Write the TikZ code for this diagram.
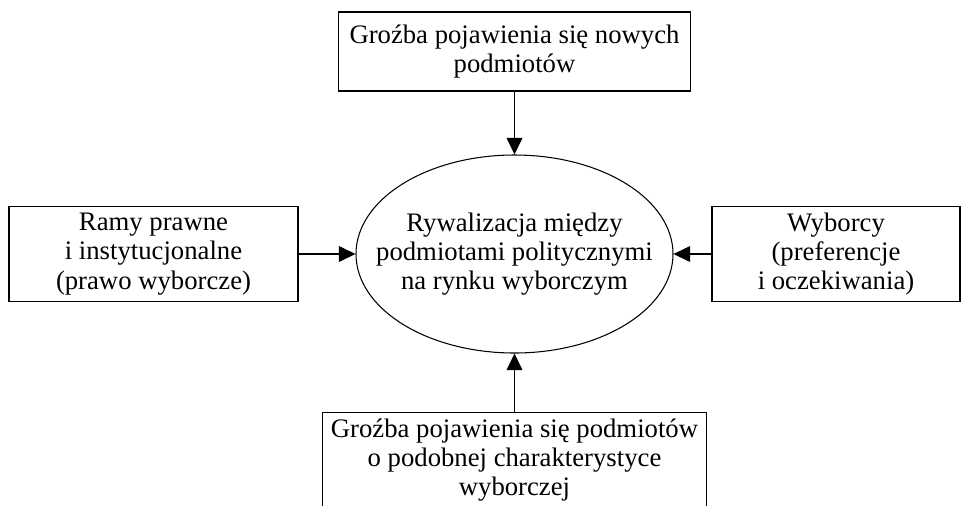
\documentclass[tikz,border=0pt]{standalone}
\usepackage{fontspec}
\setmainfont{Liberation Serif}
\usetikzlibrary{arrows.meta,shapes.geometric}
\tikzset{
  >={Triangle[length=9.5pt,width=9pt]},
  box/.style={draw=black,line width=0.9pt,align=center,inner sep=0pt,
    font=\fontsize{15.2}{16.6}\selectfont},
  hub/.style={ellipse,draw=black,line width=0.6pt,align=center,inner xsep=-30pt,inner ysep=0pt,
    minimum width=317\pxu,minimum height=198\pxu,font=\fontsize{15.2}{16.6}\selectfont},
  flow/.style={->,line width=0.75pt,draw=black},
}
\newlength{\pxu}
\setlength{\pxu}{0.02cm}

\begin{document}
\begin{tikzpicture}[x=0.02cm,y=-0.02cm]
    \useasboundingbox (0,0) rectangle (961,505);
    \node[hub] (rival) at (514.5,254) {Rywalizacja między\\podmiotami politycznymi\\na rynku wyborczym};
    \node[box,minimum width=352\pxu,minimum height=79\pxu] (threat) at (514.5,51.5) {Groźba pojawienia się nowych\\podmiotów};
    \node[box,minimum width=289\pxu,minimum height=95\pxu] (law) at (153.5,254) {Ramy prawne\\i instytucjonalne\\(prawo wyborcze)};
    \node[box,minimum width=248\pxu,minimum height=95\pxu] (voters) at (836,254) {Wyborcy\\(preferencje\\i oczekiwania)};
    \node[box,minimum width=384\pxu,minimum height=95\pxu] (similar) at (514.5,460) {Groźba pojawienia się podmiotów\\o podobnej charakterystyce\\wyborczej};
    \draw[flow] (threat.south) -- (rival.north);
    \draw[flow] (law.east) -- (rival.west);
    \draw[flow] (voters.west) -- (rival.east);
    \draw[flow] (similar.north) -- (rival.south);
\end{tikzpicture}
\end{document}
